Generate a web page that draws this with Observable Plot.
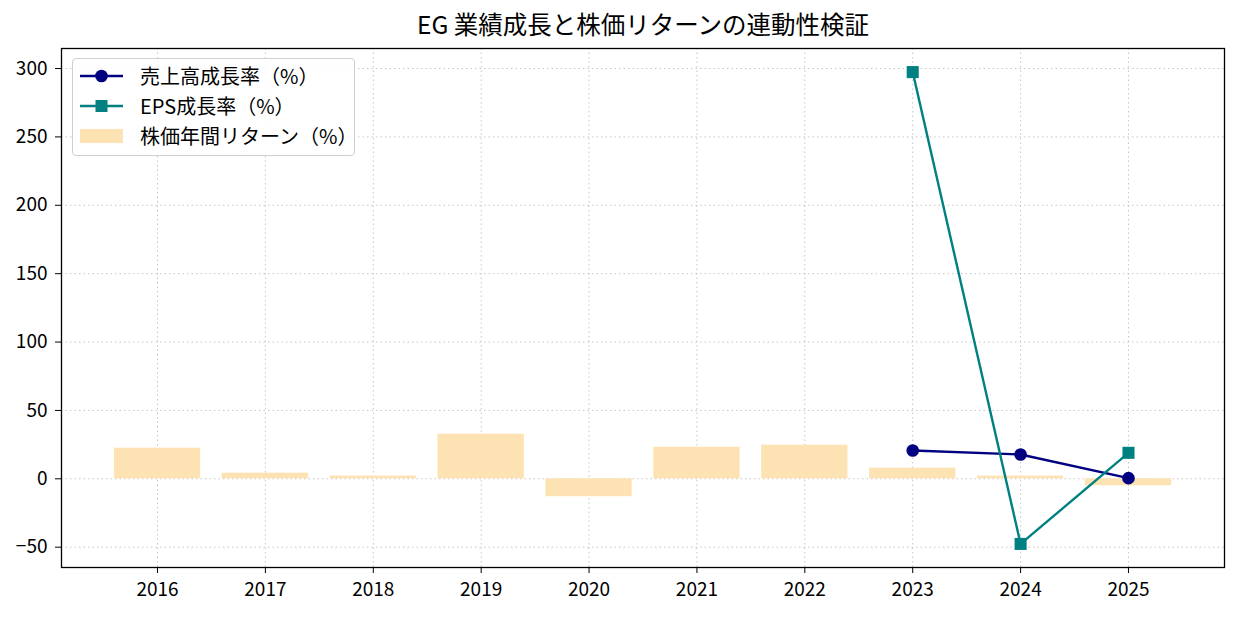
<!DOCTYPE html>
<html><head><meta charset="utf-8">
<script src="https://cdn.jsdelivr.net/npm/d3@7"></script>
<script src="https://cdn.jsdelivr.net/npm/@observablehq/plot@0.6"></script>
<style>
body{margin:0;background:#fff;font-family:"Noto Sans CJK JP",sans-serif;}
#wrap{position:relative;width:1238px;height:617px;}
#legend{position:absolute;left:72px;top:58px;width:281px;height:96px;border:1px solid #cfcfcf;border-radius:4px;background:rgba(255,255,255,0.85);font-size:20px;color:#000;}
.row{position:absolute;left:0;height:24px;display:flex;align-items:center;}
.row svg{margin-left:7px;}
.row span{margin-left:17px;white-space:nowrap;line-height:24px;}
</style></head>
<body><div id="wrap"></div>
<script>
const title = "EG 業績成長と株価リターンの連動性検証";
const years = [2016,2017,2018,2019,2020,2021,2022,2023,2024,2025];
const stockReturn = [22.4,4.1,2.0,32.6,-13.1,23.1,24.6,7.8,2.0,-5.1];
const growthYears = [2023,2024,2025];
const salesGrowth = [20.7,17.8,0.5];
const epsGrowth = [297.4,-47.6,19.0];
const yTicks = [-50,0,50,100,150,200,250,300];
const legendLabels = ["売上高成長率（%）","EPS成長率（%）","株価年間リターン（%）"];

const bars = years.map((y,i)=>({year:y, ret:stockReturn[i]}));
const sales = growthYears.map((y,i)=>({year:y, v:salesGrowth[i]}));
const eps = growthYears.map((y,i)=>({year:y, v:epsGrowth[i]}));

const navy="#000080", teal="#008080", barFill="#fde2b3";
const grid={stroke:"#b8b8b8", strokeDasharray:"1.5,3", strokeOpacity:0.8, strokeWidth:1};
const FONT="'Noto Sans CJK JP', sans-serif";

const chart = Plot.plot({
  width:1238, height:617,
  marginLeft:61, marginRight:14, marginTop:48, marginBottom:50,
  style:{fontFamily:FONT, fontSize:"19px", color:"#000", background:"#fff"},
  x:{type:"linear", domain:[2015.11,2025.89]},
  y:{domain:[-64.85,314.65]},
  marks:[
    Plot.gridX(years, grid),
    Plot.gridY(yTicks, grid),
    Plot.rectY(bars,{x1:d=>d.year-0.4, x2:d=>d.year+0.4, y:"ret", fill:barFill}),
    Plot.line(sales,{x:"year", y:"v", stroke:navy, strokeWidth:2.4}),
    Plot.dot(sales,{x:"year", y:"v", fill:navy, r:6.3, symbol:"circle"}),
    Plot.line(eps,{x:"year", y:"v", stroke:teal, strokeWidth:2.4}),
    Plot.dot(eps,{x:"year", y:"v", fill:teal, r:6.8, symbol:"square"}),
    Plot.frame({stroke:"#000", strokeWidth:1.3}),
    Plot.axisX(years,{tickFormat:d=>String(d), tickSize:6, tickPadding:9, fontSize:19, label:null, fill:"#000"}),
    Plot.axisY(yTicks,{tickFormat:d=>d<0?"\u2212"+Math.abs(d):String(d), tickSize:6, tickPadding:8, fontSize:19, label:null, fill:"#000"}),
    Plot.text([title],{frameAnchor:"top", lineAnchor:"middle", dy:-22, fontSize:24.5, fill:"#000"})
  ]
});
const wrap=document.getElementById("wrap");
wrap.appendChild(chart);

const lg=document.createElement("div");
lg.id="legend";
const rows=[
  {t:legendLabels[0], sw:`<svg width="43" height="14"><line x1="0" y1="7" x2="43" y2="7" stroke="${navy}" stroke-width="2.4"/><circle cx="21.5" cy="7" r="6.3" fill="${navy}"/></svg>`},
  {t:legendLabels[1], sw:`<svg width="43" height="14"><line x1="0" y1="7" x2="43" y2="7" stroke="${teal}" stroke-width="2.4"/><rect x="15.5" y="1" width="12" height="12" fill="${teal}"/></svg>`},
  {t:legendLabels[2], sw:`<svg width="43" height="14"><rect x="0" y="0" width="43" height="14" fill="${barFill}"/></svg>`}
];
rows.forEach((r,i)=>{
  const d=document.createElement("div");
  d.className="row";
  d.style.top=(5+i*30)+"px";
  d.innerHTML=r.sw+`<span>${r.t}</span>`;
  lg.appendChild(d);
});
wrap.appendChild(lg);
</script></body></html>
